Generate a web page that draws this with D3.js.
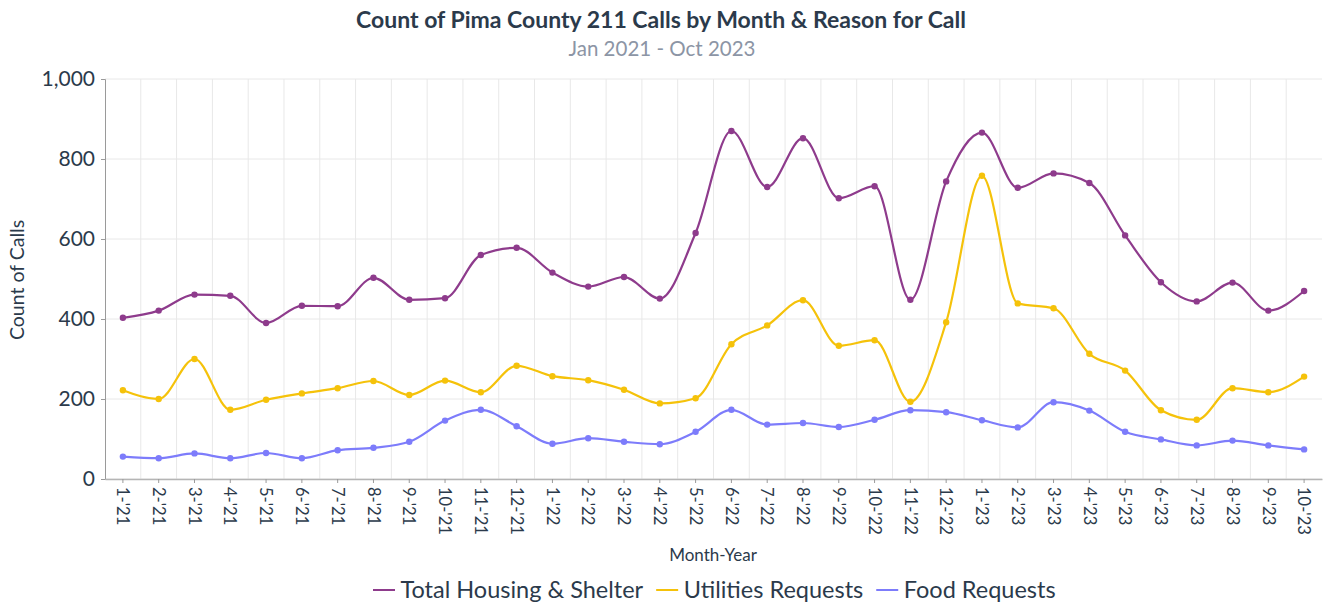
<!DOCTYPE html>
<html>
<head>
<meta charset="utf-8">
<script src="https://cdn.jsdelivr.net/npm/d3@7"></script>
<style>
  body { margin: 0; background: #fff; }
  svg text { font-family: Lato, "Open Sans", sans-serif; }
</style>
</head>
<body>
<div id="chart"></div>
<script>
// month labels, Jan 2021 - Oct 2023
const months = ["1-'21","2-'21","3-'21","4-'21","5-'21","6-'21","7-'21","8-'21","9-'21","10-'21","11-'21","12-'21",
  "1-'22","2-'22","3-'22","4-'22","5-'22","6-'22","7-'22","8-'22","9-'22","10-'22","11-'22","12-'22",
  "1-'23","2-'23","3-'23","4-'23","5-'23","6-'23","7-'23","8-'23","9-'23","10-'23"];

const housing = [403,421,461,458,390,433,432,503,448,452,560,578,
  516,481,505,451,615,870,730,852,702,732,448,744,
  866,728,764,740,609,492,444,491,421,470];

const utilities = [222,200,300,173,198,214,227,245,210,246,217,283,
  257,247,223,189,202,337,384,447,333,347,193,392,
  758,439,427,313,271,172,148,227,217,256];

const food = [56,52,64,52,65,52,72,78,93,146,173,132,
  88,102,93,87,118,173,136,140,130,148,172,167,
  147,129,192,171,118,99,84,96,84,74];

const yTicks = [0,200,400,600,800,1000];

const series = [
  { name: "Total Housing & Shelter", values: housing, color: "#8e3b8c" },
  { name: "Utilities Requests", values: utilities, color: "#f5c20a" },
  { name: "Food Requests", values: food, color: "#7d7cfb" }
];

const W = 1326, H = 607;
const margin = { left: 105, right: 4, top: 79, bottom: 128 };

const svg = d3.select("#chart").append("svg")
    .attr("width", W)
    .attr("height", H);

const x = d3.scaleBand()
    .domain(months)
    .range([margin.left, W - margin.right]);

const y = d3.scaleLinear()
    .domain([0, 1000])
    .range([H - margin.bottom, margin.top]);

// title
svg.append("text")
    .attr("x", 661).attr("y", 28)
    .attr("text-anchor", "middle")
    .style("font-size", "23px").style("font-weight", "bold")
    .style("fill", "#2b3a4b")
    .text("Count of Pima County 211 Calls by Month & Reason for Call");

svg.append("text")
    .attr("x", 662).attr("y", 56)
    .attr("text-anchor", "middle")
    .style("font-size", "20.5px")
    .style("fill", "#8c95a5")
    .text("Jan 2021 - Oct 2023");

// grid lines
svg.append("g")
    .selectAll("line.hgrid")
    .data(yTicks)
    .enter().append("line")
    .attr("class", "hgrid")
    .attr("x1", margin.left).attr("x2", W - margin.right)
    .attr("y1", d => y(d)).attr("y2", d => y(d))
    .style("stroke", "#e8e8e8");

svg.append("g")
    .selectAll("line.vgrid")
    .data(months.slice(1))
    .enter().append("line")
    .attr("class", "vgrid")
    .attr("x1", d => x(d)).attr("x2", d => x(d))
    .attr("y1", y(1000)).attr("y2", y(0))
    .style("stroke", "#e8e8e8");

// y axis
const yAxis = svg.append("g")
    .attr("transform", "translate(" + margin.left + ",0)")
    .call(d3.axisLeft(y).tickValues(yTicks).tickSize(4).tickPadding(6).tickFormat(d3.format(",")));
yAxis.select(".domain").style("stroke", "#9a9a9a");
yAxis.selectAll(".tick line").style("stroke", "#9a9a9a");
yAxis.selectAll("text").style("font-size", "21px").style("fill", "#2b3a4b")
    .style("font-family", "Lato, sans-serif");

// x axis
const xAxis = svg.append("g")
    .attr("transform", "translate(0," + y(0) + ")")
    .call(d3.axisBottom(x).tickSize(4).tickSizeOuter(0));
xAxis.select(".domain").style("stroke", "#b5b5b5").style("stroke-width", 1.5);
xAxis.selectAll(".tick line").style("stroke", "#9a9a9a");
xAxis.selectAll("text")
    .style("font-size", "16.5px").style("fill", "#2b3a4b")
    .style("font-family", "Lato, sans-serif")
    .attr("text-anchor", "start")
    .attr("dy", "0.35em")
    .attr("x", 8).attr("y", 0)
    .attr("transform", "rotate(90)");

// axis titles
svg.append("text")
    .attr("transform", "translate(24,280) rotate(-90)")
    .attr("text-anchor", "middle")
    .style("font-size", "19.5px").style("fill", "#2b3a4b")
    .text("Count of Calls");

svg.append("text")
    .attr("x", 713).attr("y", 561)
    .attr("text-anchor", "middle")
    .style("font-size", "17px").style("fill", "#2b3a4b")
    .text("Month-Year");

// lines
const line = d3.line()
    .x((d, i) => x(months[i]) + x.bandwidth() / 2)
    .y(d => y(d))
    .curve(d3.curveMonotoneX);

series.forEach(function (s) {
    svg.append("path")
        .datum(s.values)
        .attr("d", line)
        .style("fill", "none")
        .style("stroke", s.color)
        .style("stroke-width", 2.2);

    svg.append("g")
        .selectAll("circle")
        .data(s.values)
        .enter().append("circle")
        .attr("cx", (d, i) => x(months[i]) + x.bandwidth() / 2)
        .attr("cy", d => y(d))
        .attr("r", 3.2)
        .style("fill", s.color);
});

// legend
const legend = svg.append("g").attr("transform", "translate(0,590)");
let lx = 373;
series.forEach(function (s) {
    legend.append("line")
        .attr("x1", lx).attr("x2", lx + 22)
        .attr("y1", 0).attr("y2", 0)
        .style("stroke", s.color).style("stroke-width", 2);
    const t = legend.append("text")
        .attr("x", lx + 27.5).attr("y", 0)
        .attr("dy", "0.35em")
        .style("font-size", "23.5px").style("fill", "#2b3a4b")
        .text(s.name);
    lx += 27.5 + t.node().getComputedTextLength() + 13;
});
</script>
</body>
</html>
